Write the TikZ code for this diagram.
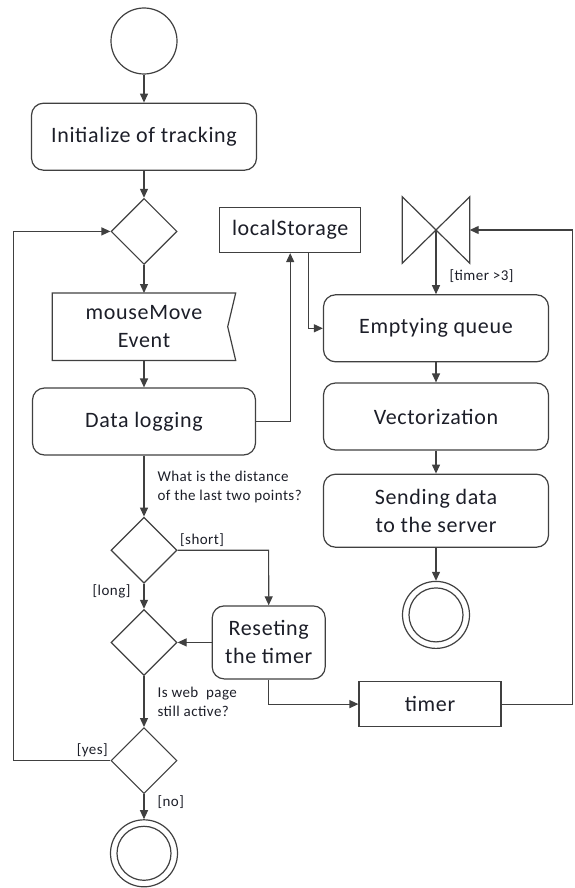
\documentclass[tikz,border=0pt]{standalone}
\usepackage{fontspec}
\setmainfont{Carlito}[LetterSpace=3]
\usetikzlibrary{
    positioning,
    arrows.meta,
    shapes.geometric
}
\definecolor{LineGray}{RGB}{64,64,64}
\definecolor{TextDark}{RGB}{28,30,40}

\begin{document}
\begin{tikzpicture}[
    action/.style={rectangle, draw=LineGray, line width=1.2pt, rounded corners=12pt, align=center, font=\fontsize{22}{28}\selectfont, text=TextDark, minimum width=225pt, minimum height=67pt, inner sep=2pt},
    obj/.style={rectangle, draw=LineGray, line width=1.2pt, align=center, font=\fontsize{22}{28}\selectfont, text=TextDark, minimum width=141pt, minimum height=45pt},
    choice/.style={diamond, draw=LineGray, line width=1.2pt, minimum width=66pt, minimum height=66pt, inner sep=0pt},
    initial/.style={circle, draw=LineGray, line width=1.2pt, minimum size=66pt, inner sep=0pt},
    final/.style={circle, draw=LineGray, line width=1.2pt, minimum size=67pt, inner sep=0pt},
    line/.style={draw=LineGray, line width=1.2pt},
    flow/.style={line, -{Triangle[length=9pt,width=8pt]}},
    g/.style={font=\fontsize{15}{19}\selectfont, text=TextDark, inner sep=1pt, align=left},
]
\useasboundingbox (0,0) rectangle (574pt,-888pt);

% main column
\node[initial] (start) at (144pt,-41pt) {};
\node[action, below=28pt of start] (init) {Initialize of tracking};
\node[choice, below=27pt of init] (dec1) {};
\node[rectangle, align=center, font=\fontsize{22}{28}\selectfont, text=TextDark, minimum width=183pt, minimum height=67pt, below=28pt of dec1] (mouse) {mouseMove\\Event};
\draw[line] (mouse.north west) -- (mouse.north east) -- ([xshift=-8pt]mouse.east) -- (mouse.south east) -- (mouse.south west) -- cycle;
\node[action, minimum width=223pt, below=27pt of mouse] (log) {Data logging};
\node[choice, below=61pt of log] (dec2) {};
\node[choice, below=25pt of dec2] (dec3) {};
\node[choice, below=51pt of dec3] (dec4) {};
\node[final, below=25pt of dec4] (fin) {};
\draw[line] (fin.center) circle[radius=27pt];

\node[action, minimum width=113pt, minimum height=73pt, right=34pt of dec3] (reset) {Reseting\\the timer};

% right column
\node[rectangle, minimum width=67pt, minimum height=66pt] (wait) at (436pt,-230pt) {};
\draw[line] (wait.north west) -- (wait.south east) -- (wait.north east) -- (wait.south west) -- cycle;
\node[obj, left=41pt of wait] (store) {localStorage};
\node[action, below=31pt of wait] (empty) {Emptying queue};
\node[action, below=20pt of empty] (vect) {Vectorization};
\node[action, minimum height=73pt, below=23pt of vect] (send) {Sending data\\to the server};
\node[final, below=33pt of send] (fin2) {};
\draw[line] (fin2.center) circle[radius=27pt];
\node[obj, minimum width=142pt, below=32pt of fin2, xshift=-6pt] (timer) {timer};

% flows
\draw[flow] (start) -- (init);
\draw[flow] (init) -- (dec1);
\draw[flow] (dec1) -- (mouse);
\draw[flow] (mouse) -- (log);
\draw[flow] (log) -- node[g, right, pos=0.52, xshift=12pt] {What is the distance\\of the last two points?} (dec2);
\draw[flow] (dec2) -- node[g, left, pos=0.3, xshift=-12pt] {[long]} (dec3);
\draw[flow] (dec2.east) -- node[g, above right, pos=0, xshift=1pt, yshift=2pt] {[short]} ++(91pt,0) -- (reset.north);
\draw[flow] (reset.west) -- (dec3.east);
\draw[flow] (dec3) -- node[g, right, pos=0.5, xshift=12pt] {Is web\ \ page\\still active?} (dec4);
\draw[flow] (dec4) -- node[g, right, pos=0.3, xshift=12pt] {[no]} (fin);
\draw[flow] (dec4.west) -- node[g, above left, pos=0, xshift=-1pt, yshift=2pt] {[yes]} ++(-97pt,0) |- (dec1.west);
\draw[flow] (reset.south) |- (timer.west);

\draw[flow] (log.east) -| (store.south);
\draw[flow] ([xshift=18pt]store.south) |- (empty.west);
\draw[flow] (wait.center) -- node[g, right, pos=0.72, xshift=12pt] {[timer >3]} (empty);
\draw[flow] (empty) -- (vect);
\draw[flow] (vect) -- (send);
\draw[flow] (send) -- (fin2);
\draw[flow] (timer.east) -- ++(71pt,0) |- (wait.east);
\end{tikzpicture}
\end{document}
